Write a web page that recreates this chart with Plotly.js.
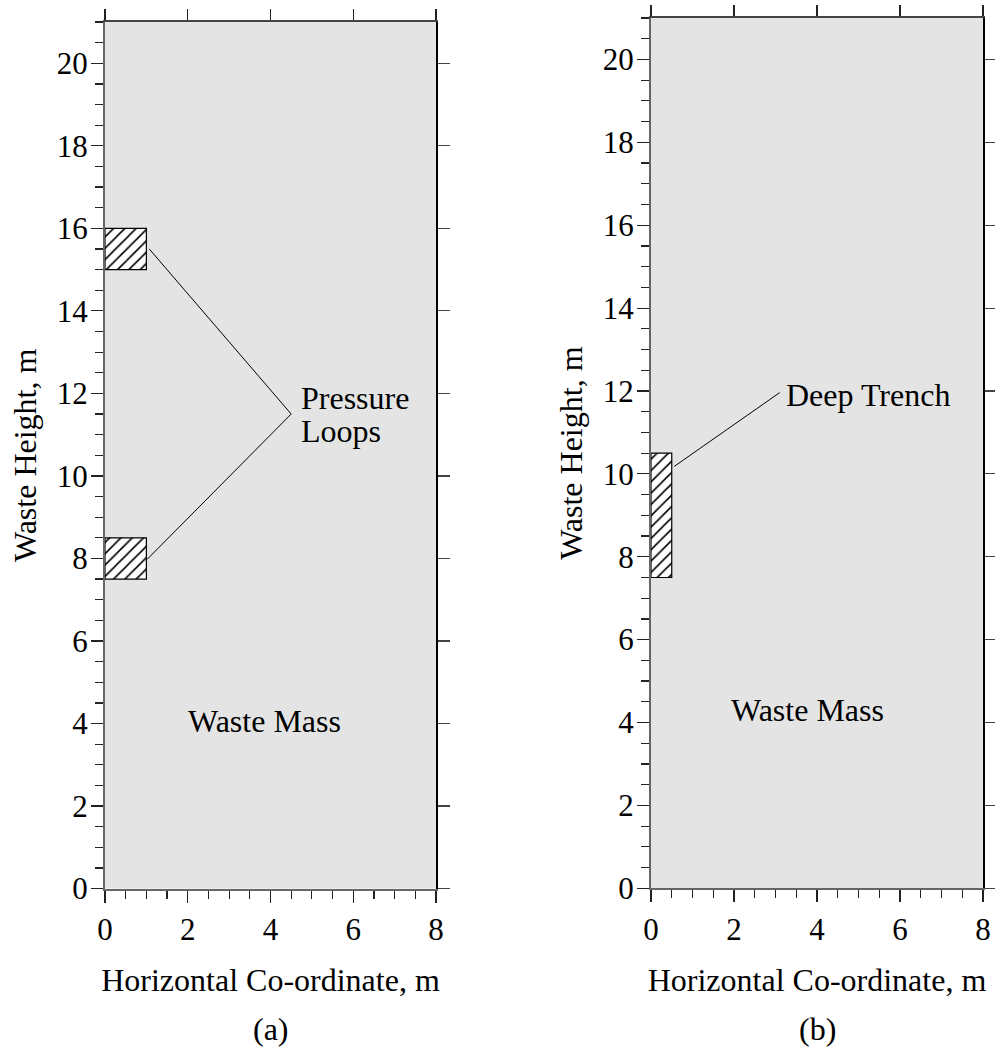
<!DOCTYPE html>
<html>
<head>
<meta charset="utf-8">
<script src="https://cdn.plot.ly/plotly-3.0.1.min.js"></script>
<style>
  html, body { margin: 0; padding: 0; background: #ffffff; }
  #chart { width: 995px; height: 1051px; }
</style>
</head>
<body>
<div id="chart"></div>
<script>
// ---- Data ----
const wasteWidth = 8;
const wasteHeight = 21;

// Panel (a): pressure loops
const loopX0 = [0, 0];
const loopX1 = [1, 1];
const loopY0 = [15, 7.5];
const loopY1 = [16, 8.5];
const loopLeaderX = [1.07, 4.5, 1.02];
const loopLeaderY = [15.5, 11.5, 7.98];
const loopLabelLines = ["Pressure", "Loops"];
const loopLabelX = 4.68;
const loopLabelY = [11.9, 11.1];

// Panel (b): deep trench
const trenchX0 = [0];
const trenchX1 = [0.5];
const trenchY0 = [7.5];
const trenchY1 = [10.5];
const trenchLeaderX = [0.56, 3.1];
const trenchLeaderY = [10.18, 11.96];
const trenchLabel = "Deep Trench";
const trenchLabelX = 3.2;
const trenchLabelY = 11.91;

// Waste mass labels
const massLabel = "Waste Mass";
const massLabelX = [3.85, 3.78];
const massLabelY = [4.07, 4.3];

// Axes
const xTicks = [0, 2, 4, 6, 8];
const yTicks = [0, 2, 4, 6, 8, 10, 12, 14, 16, 18, 20];
const xTitle = "Horizontal Co-ordinate, m";
const yTitle = "Waste Height, m";
const panelLabels = ["(a)", "(b)"];

// ---- Helpers ----
const FONT = "Liberation Serif";
function boxes(x0, x1, y0, y1) {
  const xs = [], ys = [];
  for (let i = 0; i < x0.length; i++) {
    if (i > 0) { xs.push(null); ys.push(null); }
    xs.push(x0[i], x1[i], x1[i], x0[i], x0[i]);
    ys.push(y0[i], y0[i], y1[i], y1[i], y0[i]);
  }
  return { xs, ys };
}
function hatchTrace(b, xa, ya) {
  return {
    type: "scatter", mode: "lines", x: b.xs, y: b.ys, xaxis: xa, yaxis: ya,
    fill: "toself", fillcolor: "white",
    fillpattern: { shape: "/", fgcolor: "black", bgcolor: "white", size: 8, solidity: 0.2 },
    line: { color: "black", width: 1.2 }, hoverinfo: "skip", showlegend: false
  };
}
function leaderTrace(xs, ys, xa, ya) {
  return {
    type: "scatter", mode: "lines", x: xs, y: ys, xaxis: xa, yaxis: ya,
    line: { color: "black", width: 1 }, hoverinfo: "skip", showlegend: false
  };
}
const loopBoxes = boxes(loopX0, loopX1, loopY0, loopY1);
const trenchBoxes = boxes(trenchX0, trenchX1, trenchY0, trenchY1);
const data = [
  hatchTrace(loopBoxes, "x", "y"),
  leaderTrace(loopLeaderX, loopLeaderY, "x3", "y3"),
  hatchTrace(trenchBoxes, "x2", "y2"),
  leaderTrace(trenchLeaderX, trenchLeaderY, "x4", "y4")
];

// ---- Layout ----
const W = 995, H = 1051;
const panels = [
  { left: 105, right: 436, top: 22, bottom: 888.6 },
  { left: 651, right: 983, top: 18, bottom: 888.3 }
];
function xdom(p) { return [p.left / W, p.right / W]; }
function ydom(p) { return [(H - p.bottom) / H, (H - p.top) / H]; }
function tickFont() { return { family: FONT, size: 31, color: "black" }; }
function titleFont() { return { family: FONT, size: 32, color: "black" }; }

function bottomAxis(p, anchor) {
  return {
    domain: xdom(p), anchor: anchor, range: [0, wasteWidth], fixedrange: true,
    tickvals: xTicks, ticktext: xTicks.map(String), ticks: "outside", ticklen: 12, tickwidth: 1.2, tickcolor: "#222",
    minor: { dtick: 0.5, tick0: 0, ticks: "outside", ticklen: 8, tickwidth: 1.2, tickcolor: "#222" },
    showline: true, linecolor: "#666", linewidth: 2, showgrid: false, zeroline: false,
    tickfont: tickFont(), title: { text: xTitle, font: titleFont(), standoff: 23 }
  };
}
function leftAxis(p, anchor) {
  return {
    domain: ydom(p), anchor: anchor, range: [0, wasteHeight], fixedrange: true,
    tickvals: yTicks, ticktext: yTicks.map(String), ticks: "outside", ticklen: 12, tickwidth: 1.2, tickcolor: "#222",
    minor: { dtick: 0.5, tick0: 0, ticks: "outside", ticklen: 8, tickwidth: 1.2, tickcolor: "#222" },
    showline: true, linecolor: "#666", linewidth: 2, showgrid: false, zeroline: false,
    ticklabelstandoff: -3,
    tickfont: tickFont(), title: { text: yTitle, font: titleFont(), standoff: 11 }
  };
}
function topAxis(over, anchor) {
  return {
    overlaying: over, anchor: anchor, side: "top", range: [0, wasteWidth], fixedrange: true,
    tickvals: xTicks, ticks: "outside", ticklen: 11, tickwidth: 1.2, tickcolor: "#222",
    showticklabels: false, showline: true, linecolor: "#444", linewidth: 2, showgrid: false, zeroline: false
  };
}
function rightAxis(over, anchor) {
  return {
    overlaying: over, anchor: anchor, side: "right", range: [0, wasteHeight], fixedrange: true,
    tickvals: yTicks, ticks: "outside", ticklen: 12, tickwidth: 1.2, tickcolor: "#444",
    showticklabels: false, showline: true, linecolor: "black", linewidth: 2, showgrid: false, zeroline: false
  };
}

const annotations = [];
loopLabelLines.forEach((t, i) => annotations.push({
  xref: "x", yref: "y", x: loopLabelX, y: loopLabelY[i], text: t, showarrow: false,
  xanchor: "left", yanchor: "middle", font: titleFont()
}));
annotations.push({
  xref: "x2", yref: "y2", x: trenchLabelX, y: trenchLabelY, text: trenchLabel, showarrow: false,
  xanchor: "left", yanchor: "middle", font: titleFont()
});
["x", "x2"].forEach((xr, i) => annotations.push({
  xref: xr, yref: xr === "x" ? "y" : "y2", x: massLabelX[i], y: massLabelY[i], text: massLabel,
  showarrow: false, xanchor: "center", yanchor: "middle", font: titleFont()
}));
panels.forEach((p, i) => annotations.push({
  xref: "paper", yref: "paper", x: (p.left + p.right) / 2 / W, y: (H - 1029) / H,
  text: panelLabels[i], showarrow: false, xanchor: "center", yanchor: "middle", font: titleFont()
}));

const layout = {
  width: W, height: H,
  margin: { l: 0, r: 0, t: 0, b: 0 },
  paper_bgcolor: "white", plot_bgcolor: "#e4e4e4",
  showlegend: false,
  font: { family: FONT, size: 31, color: "black" },
  xaxis: bottomAxis(panels[0], "y"),
  yaxis: leftAxis(panels[0], "x"),
  xaxis2: bottomAxis(panels[1], "y2"),
  yaxis2: leftAxis(panels[1], "x2"),
  xaxis3: topAxis("x", "y3"),
  yaxis3: rightAxis("y", "x3"),
  xaxis4: topAxis("x2", "y4"),
  yaxis4: rightAxis("y2", "x4"),
  annotations: annotations
};

Plotly.newPlot("chart", data, layout, { staticPlot: true, displayModeBar: false });
</script>
</body>
</html>
